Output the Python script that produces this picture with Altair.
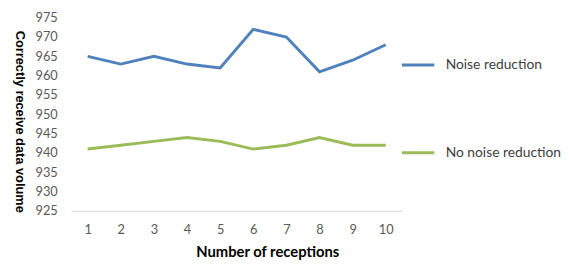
import altair as alt
import pandas as pd

receptions = [1, 2, 3, 4, 5, 6, 7, 8, 9, 10]
noise_reduction = [965, 963, 965, 963, 962, 972, 970, 961, 964, 968]
no_noise_reduction = [941, 942, 943, 944, 943, 941, 942, 944, 942, 942]
series_names = ["Noise reduction", "No noise reduction"]
y_ticks = [925, 930, 935, 940, 945, 950, 955, 960, 965, 970, 975]

rows = []
for r, a, b in zip(receptions, noise_reduction, no_noise_reduction):
    rows.append({"Reception": r, "Value": a, "Series": series_names[0]})
    rows.append({"Reception": r, "Value": b, "Series": series_names[1]})
df = pd.DataFrame(rows)

FONT = "Lato"

chart = alt.Chart(df).mark_line(strokeWidth=3).encode(
    x=alt.X("Reception:O", scale=alt.Scale(paddingInner=0, paddingOuter=0.5),
            axis=alt.Axis(title="Number of receptions", labelAngle=0, ticks=False,
                          domainColor="#d9d9d9", domainWidth=1, labelColor="#595959",
                          labelFont=FONT, labelFontSize=13, labelPadding=13,
                          titleFont=FONT, titleFontSize=15, titleFontWeight="bold",
                          titleColor="#000000", titleX=199, titleY=34,
                          titleBaseline="top")),
    y=alt.Y("Value:Q", scale=alt.Scale(domain=[925, 975], nice=False, zero=False),
            axis=alt.Axis(title="Correctly receive data volume", values=y_ticks,
                          grid=False, domain=False, ticks=False, labelColor="#595959",
                          labelFont=FONT, labelFontSize=13, labelPadding=14,
                          titleFont="Liberation Sans", titleFontSize=13,
                          titleFontWeight="bold",
                          titleColor="#000000", titleAngle=90, titleX=-59, titleY=105)),
    color=alt.Color("Series:N", sort=series_names,
                    scale=alt.Scale(domain=series_names, range=["#4f81bd", "#9bbb59"]),
                    legend=alt.Legend(title=None, orient="none", legendX=334, legendY=30,
                                      symbolType="stroke", symbolSize=1089,
                                      symbolStrokeWidth=3, labelFont=FONT,
                                      labelFontSize=14, labelColor="#404040",
                                      labelOffset=10, rowPadding=64)),
).properties(
    width=336, height=196,
    autosize=alt.AutoSizeParams(type="none"),
    padding={"left": 64, "top": 8, "right": 161, "bottom": 52},
).configure_view(stroke=None)

chart.save("out.html", embed_options={"renderer": "svg", "actions": False})
